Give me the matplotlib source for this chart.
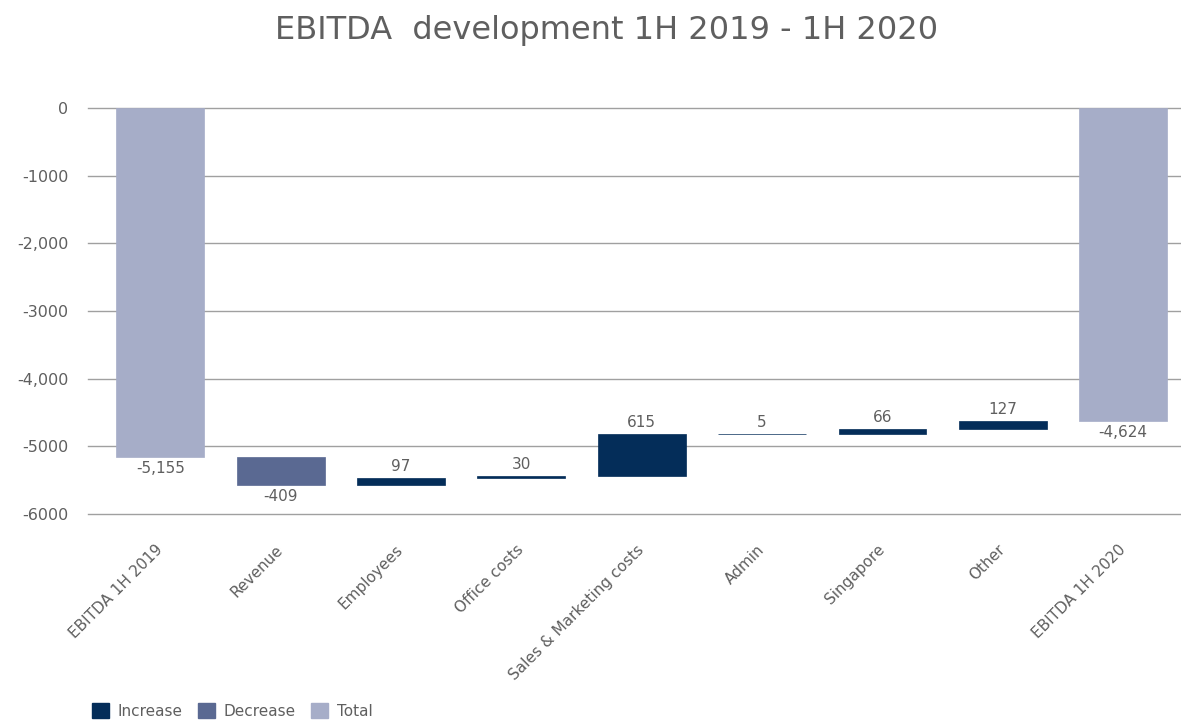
import matplotlib.pyplot as plt
from matplotlib.patches import Patch

categories = ["EBITDA 1H 2019", "Revenue", "Employees", "Office costs",
              "Sales & Marketing costs", "Admin", "Singapore", "Other", "EBITDA 1H 2020"]
changes = [-5155, -409, 97, 30, 615, 5, 66, 127, -4624]
kinds = ["total", "decrease", "increase", "increase", "increase",
         "increase", "increase", "increase", "total"]
labels = ["-5,155", "-409", "97", "30", "615", "5", "66", "127", "-4,624"]
yticks = [0, -1000, -2000, -3000, -4000, -5000, -6000]
yticklabels = ["0", "-1000", "-2,000", "-3000", "-4,000", "-5000", "-6000"]

colors = {"increase": "#042d59", "decrease": "#5a6992", "total": "#a6adc8"}
text_color = "#5f5f5f"
plt.rcParams['font.family'] = ['DejaVu Sans']

fig = plt.figure(figsize=(11.81, 7.24), dpi=100, facecolor='white')
ax = fig.add_axes([0.0745, 0.29, 0.9255, 0.561])

# waterfall: compute bottoms/tops
running = 0
for i, (val, kind) in enumerate(zip(changes, kinds)):
    if kind == "total":
        bottom, top = val, 0
        running = val
    else:
        start = running
        running = running + val
        bottom, top = min(start, running), max(start, running)
    ax.bar(i, top - bottom, bottom=bottom, width=0.73, color=colors[kind],
           edgecolor=colors[kind], linewidth=0.5, zorder=3)
    if kind == "increase":
        ax.text(i, top + 60, labels[i], ha='center', va='bottom',
                fontsize=11, color=text_color, zorder=4)
    else:
        ax.text(i, bottom - 60, labels[i], ha='center', va='top',
                fontsize=11, color=text_color, zorder=4)

ax.set_xlim(-0.6, 8.48)
ax.set_ylim(-6000, 0)
ax.set_yticks(yticks)
ax.set_yticklabels(yticklabels, fontsize=11.5, color=text_color)
ax.set_xticks(range(len(categories)))
ax.set_xticklabels(categories, rotation=45, ha='right', va='center',
                   rotation_mode='anchor', fontsize=11, color=text_color)
ax.tick_params(axis='x', length=0, pad=24)
ax.tick_params(axis='y', length=0, pad=14)
ax.grid(axis='y', color='#a0a0a0', linewidth=1, zorder=0)
ax.set_axisbelow(True)
for line in ax.get_ygridlines():
    line.set_clip_on(False)
for s in ax.spines.values():
    s.set_visible(False)

fig.text(0.514, 0.958, "EBITDA  development 1H 2019 - 1H 2020", ha='center', va='center',
         fontsize=23, color=text_color, family=['Liberation Sans Narrow', 'DejaVu Sans'])

handles = [Patch(color=colors["increase"], label="Increase"),
           Patch(color=colors["decrease"], label="Decrease"),
           Patch(color=colors["total"], label="Total")]
fig.legend(handles=handles, loc='lower left', bbox_to_anchor=(0.066, -0.012), ncol=3,
           frameon=False, fontsize=11, handlelength=1.1, handleheight=1.1,
           columnspacing=1.0, handletextpad=0.6, labelcolor=text_color)

plt.savefig("out.png", dpi=100)
plt.close()
